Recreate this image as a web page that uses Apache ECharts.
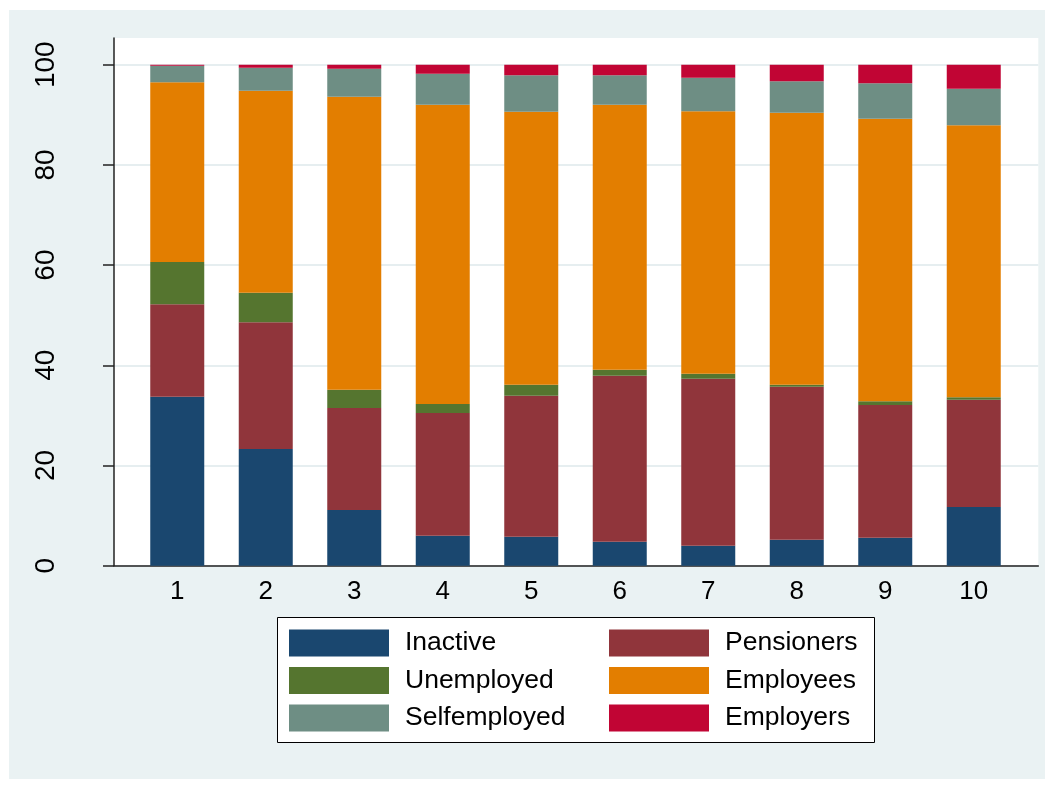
<!DOCTYPE html>
<html>
<head>
<meta charset="utf-8">
<script src="https://cdn.jsdelivr.net/npm/echarts@6/dist/echarts.min.js"></script>
<style>html,body{margin:0;padding:0;background:#fff;}#main{width:1054px;height:789px;}</style>
</head>
<body>
<div id="main"></div>
<script>
const categories = ['1', '2', '3', '4', '5', '6', '7', '8', '9', '10'];
const inactive     = [33.7, 23.3, 11.1, 6.0, 5.8, 4.8, 4.0, 5.2, 5.6, 11.7];
const pensioners   = [18.5, 25.3, 20.4, 24.5, 28.1, 33.1, 33.3, 30.5, 26.5, 21.4];
const unemployed   = [8.4, 5.9, 3.6, 1.8, 2.2, 1.2, 1.0, 0.4, 0.7, 0.5];
const employees    = [35.9, 40.3, 58.5, 59.7, 54.5, 52.9, 52.4, 54.3, 56.4, 54.3];
const selfemployed = [3.3, 4.6, 5.6, 6.2, 7.3, 5.9, 6.7, 6.3, 7.1, 7.3];
const employers    = [0.2, 0.6, 0.8, 1.8, 2.1, 2.1, 2.6, 3.3, 3.7, 4.8];
const yTicks = [0, 20, 40, 60, 80, 100];

const seriesDefs = [
  {name: 'Inactive', data: inactive, color: '#1a476f'},
  {name: 'Pensioners', data: pensioners, color: '#90353b'},
  {name: 'Unemployed', data: unemployed, color: '#55752f'},
  {name: 'Employees', data: employees, color: '#e37e00'},
  {name: 'Selfemployed', data: selfemployed, color: '#6e8e84'},
  {name: 'Employers', data: employers, color: '#c10534'}
];

const FONT = 'Liberation Sans, Arial, sans-serif';
const Y_MAX = 105.33;
const chart = echarts.init(document.getElementById('main'), null, {renderer: 'canvas'});

const legendCommon = {
  orient: 'vertical',
  top: 629.5,
  padding: 0,
  itemWidth: 100,
  itemHeight: 27,
  itemGap: 10.5,
  icon: 'rect',
  selectedMode: false,
  textStyle: {fontSize: 26.5, color: '#000', fontFamily: FONT, padding: [0, 0, 0, 11]}
};

chart.setOption({
  backgroundColor: '#fff',
  animation: false,
  graphic: [
    {type: 'rect', z: -10, shape: {x: 9, y: 10, width: 1036, height: 769}, style: {fill: '#eaf2f3'}},
    {type: 'rect', z: 1, shape: {x: 277.5, y: 617.5, width: 597, height: 125}, style: {fill: '#fff', stroke: '#000', lineWidth: 1}}
  ],
  grid: [
    {left: 133, right: 36, top: 38, bottom: 223.3, show: false},
    {left: 114, right: 15.7, top: 38, bottom: 223.3, show: true, backgroundColor: '#fff', borderWidth: 0}
  ],
  legend: [
    Object.assign({}, legendCommon, {left: 289, data: ['Inactive', 'Unemployed', 'Selfemployed']}),
    Object.assign({}, legendCommon, {left: 609, data: ['Pensioners', 'Employees', 'Employers']})
  ],
  xAxis: [
    {
      type: 'category', gridIndex: 0, data: categories, boundaryGap: true,
      axisLine: {show: false}, axisTick: {show: false}, splitLine: {show: false},
      axisLabel: {fontSize: 26, color: '#000', fontFamily: FONT, margin: 13}
    },
    {
      type: 'value', gridIndex: 1, min: 0, max: 1,
      axisLine: {show: true, lineStyle: {color: '#222', width: 1.5}},
      axisTick: {show: false}, splitLine: {show: false}, axisLabel: {show: false}
    }
  ],
  yAxis: [
    {
      type: 'value', gridIndex: 0, min: 0, max: Y_MAX,
      axisLine: {show: false}, axisTick: {show: false}, splitLine: {show: false}, axisLabel: {show: false}
    },
    {
      type: 'value', gridIndex: 1, min: 0, max: Y_MAX,
      axisLine: {show: true, lineStyle: {color: '#222', width: 1.5}},
      axisTick: {show: true, length: 11, customValues: yTicks, lineStyle: {color: '#222', width: 1.5}},
      splitLine: {show: true, lineStyle: {color: '#e6eef0', width: 2}},
      axisLabel: {customValues: yTicks, rotate: 90, fontSize: 28, color: '#000', fontFamily: FONT, margin: 54}
    }
  ],
  series: seriesDefs.map(s => ({
    name: s.name,
    type: 'bar',
    xAxisIndex: 0,
    yAxisIndex: 0,
    stack: 'total',
    barWidth: 54,
    itemStyle: {color: s.color, borderWidth: 0},
    emphasis: {disabled: true},
    data: s.data
  }))
});
</script>
</body>
</html>
